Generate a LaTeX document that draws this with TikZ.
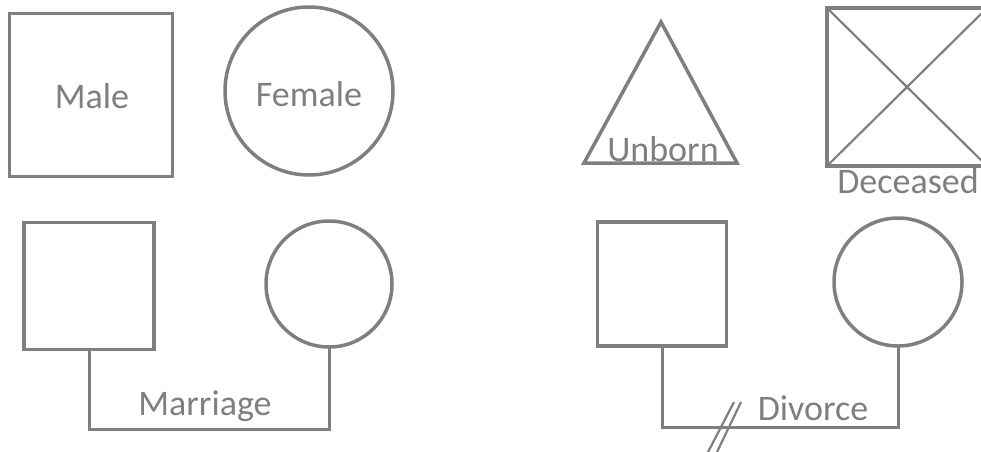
\documentclass[tikz,border=0pt]{standalone}
\usepackage{fontspec}
\setmainfont{Carlito}
\definecolor{pedgray}{HTML}{7F7F7F}
\begin{document}
\begin{tikzpicture}[x=1pt,y=-1pt,
  every node/.style={inner sep=0pt,outer sep=0pt},
  sym/.style={draw=pedgray,line width=3.5pt},
  sq/.style={sym,rectangle},
  ci/.style={sym,circle},
  lnk/.style={draw=pedgray,line width=3pt},
  lbl/.style={text=pedgray,font=\fontsize{36}{40}\selectfont,anchor=base}]
\useasboundingbox (0,0) rectangle (981,451);
% top row
\node[sq,minimum width=163pt,minimum height=163pt] (male) at (91,95) {};
\node[lbl] (maletxt) at (92,108) {Male};
\node[ci,minimum size=168pt] (female) at (309,91) {};
\node[lbl] (femaletxt) at (309,106) {Female};
\coordinate (ta) at (661,22);
\coordinate (tl) at (584,163);
\coordinate (tr) at (737,163);
\draw[sym,line join=miter] (tl) -- (ta) -- (tr) -- cycle;
\node[lbl] (unborntxt) at (663,161) {Unborn};
\node[sq,minimum width=160pt,minimum height=158pt] (dec) at (907,87) {};
\draw[draw=pedgray,line width=2.2pt] (dec.north west) -- (dec.south east);
\draw[draw=pedgray,line width=2.2pt] (dec.south west) -- (dec.north east);
\node[lbl] (dectxt) at (908,193) {Deceased};
% marriage
\node[sq,minimum width=130pt,minimum height=127pt] (m1) at (89,286) {};
\node[ci,minimum size=126pt] (f1) at (329,284) {};
\draw[lnk] (m1.south) -- (m1.south |- 0,429) -| (f1.south);
\node[lbl] (martxt) at (205,415) {Marriage};
% divorce
\node[sq,minimum width=129pt,minimum height=124pt] (m2) at (662,284) {};
\node[ci,minimum size=128pt] (f2) at (898,282) {};
\draw[lnk] (m2.south) -- (m2.south |- 0,427) -| (f2.south);
\coordinate (s1a) at (708,452);
\coordinate (s1b) at (734,402);
\coordinate (s2a) at (717,452);
\coordinate (s2b) at (741,402);
\draw[draw=pedgray,line width=2.2pt] (s1a) -- (s1b);
\draw[draw=pedgray,line width=2.2pt] (s2a) -- (s2b);
\node[lbl] (divtxt) at (813,420) {Divorce};
\end{tikzpicture}
\end{document}
